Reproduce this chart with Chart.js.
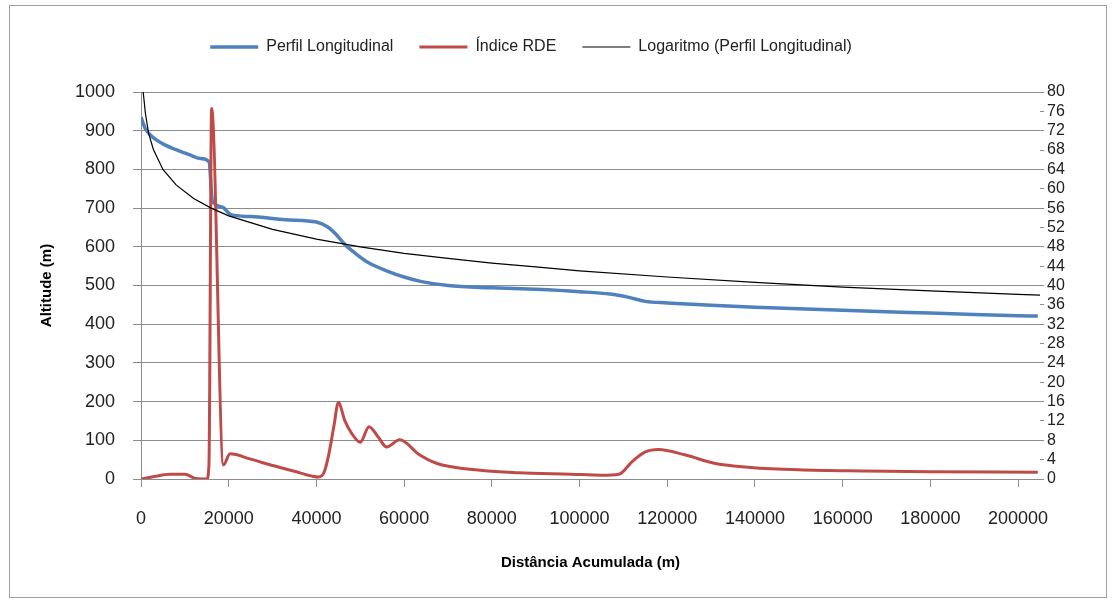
<!DOCTYPE html>
<html><head><meta charset="utf-8">
<script src="https://cdn.jsdelivr.net/npm/chart.js@4/dist/chart.umd.min.js"></script>
<style>html,body{margin:0;padding:0;background:#fff;}</style>
</head><body>
<canvas id="c" width="1114" height="603"></canvas>
<script>
// Perfil Longitudinal (altitude, m) vs distância acumulada (m)
const profileDist = [0, 1000, 2500, 5000, 8000, 11000, 13500, 15500, 16300, 18500, 20500, 25000, 33000, 40000, 42500, 44500, 46500, 49000, 52000, 56000, 60000, 64000, 70000, 80000, 90000, 100000, 107000, 111000, 115000, 120000, 130000, 140000, 150000, 160000, 170000, 180000, 190000, 200000, 204500];
const profileAlt  = [935, 905, 885, 866, 851, 838, 828, 820, 718, 703, 683, 678, 670, 664, 652, 632, 606, 582, 558, 538, 522, 510, 500, 494, 490, 484, 478, 470, 459, 455, 449, 444, 440, 436, 432, 429, 425, 422, 421];

// Índice RDE (right axis)
const rdeDist = [0, 3000, 6500, 10000, 12500, 15000, 15500, 16100, 18800, 20300, 25000, 30000, 35000, 39000, 40500, 41800, 42800, 44000, 45000, 46500, 48000, 50000, 52000, 54000, 56000, 59000, 63500, 67500, 75000, 86000, 98000, 105000, 109000, 112000, 115000, 118000, 124000, 131000, 139000, 150000, 165000, 180000, 204500];
const rdeValue = [0, 0.5, 1.0, 1.0, 0.1, 0, 3, 76.6, 2.9, 5.2, 4.1, 2.8, 1.6, 0.6, 0.4, 1.5, 5, 11, 15.8, 12.0, 9.5, 7.6, 10.8, 8.8, 6.6, 8.1, 5.0, 3.2, 2.0, 1.3, 1.0, 0.8, 1.0, 3.6, 5.6, 6.1, 5.0, 3.2, 2.4, 1.9, 1.65, 1.5, 1.4];

// Logaritmo (Perfil Longitudinal) trendline
const logDist  = [500, 1000, 1700, 2800, 5000, 8000, 12000, 16000, 20000, 30000, 40000, 50000, 60000, 70000, 80000, 90000, 100000, 120000, 140000, 160000, 180000, 200000, 205000];
const logValue = [1000, 945, 895, 852, 800, 760, 725, 700, 680, 645, 620, 600, 583, 570, 558, 548, 538, 522, 508, 496, 486, 477, 475];

// Tick labels
const xTicks = [0, 20000, 40000, 60000, 80000, 100000, 120000, 140000, 160000, 180000, 200000];
const yTicks = [0, 100, 200, 300, 400, 500, 600, 700, 800, 900, 1000];
const y1Ticks = [0, 4, 8, 12, 16, 20, 24, 28, 32, 36, 40, 44, 48, 52, 56, 60, 64, 68, 72, 76, 80];

const seriesNames = ['Perfil Longitudinal', 'Índice RDE', 'Logaritmo (Perfil Longitudinal)'];
const xTitle = 'Distância Acumulada (m)';
const yTitle = 'Altitude (m)';

const pts = (xs, ys) => xs.map((x, i) => ({x, y: ys[i]}));
const FONT = "'Liberation Sans', Arial, sans-serif";
const GRID = '#8c8c8c';

const frame = {
  id: 'frame',
  beforeDraw(chart) {
    const ctx = chart.ctx;
    ctx.save();
    ctx.fillStyle = '#fff';
    ctx.fillRect(0, 0, chart.width, chart.height);
    ctx.strokeStyle = '#a0a0a0';
    ctx.lineWidth = 1;
    ctx.strokeRect(9.5, 5.5, 1097, 592);
    ctx.restore();
  },
  afterLayout(chart) {
    const lg = chart.legend;
    if (lg) { lg.left -= 36; lg.right -= 36; }
  }
};

new Chart(document.getElementById('c'), {
  type: 'line',
  data: {
    datasets: [
      { label: seriesNames[0], data: pts(profileDist, profileAlt), yAxisID: 'y',
        borderColor: '#4F81BD', backgroundColor: '#4F81BD', borderWidth: 3.5,
        pointRadius: 0, cubicInterpolationMode: 'monotone', order: 3 },
      { label: seriesNames[1], data: pts(rdeDist, rdeValue), yAxisID: 'y1',
        borderColor: '#BE4B48', backgroundColor: '#BE4B48', borderWidth: 3,
        pointRadius: 0, cubicInterpolationMode: 'monotone', order: 2 },
      { label: seriesNames[2], data: pts(logDist, logValue), yAxisID: 'y',
        borderColor: '#000', backgroundColor: '#000', borderWidth: 1.2,
        pointRadius: 0, tension: 0, order: 1 }
    ]
  },
  options: {
    responsive: false,
    devicePixelRatio: 1,
    animation: false,
    layout: { padding: { top: 13, left: 30, right: 10, bottom: 25 } },
    font: { family: FONT },
    plugins: {
      legend: {
        position: 'top', weight: 3000,
        labels: {
          usePointStyle: true, pointStyle: 'line', pointStyleWidth: 48,
          padding: 26, color: '#222', font: { family: FONT, size: 16 },
          sort: (a, b) => a.datasetIndex - b.datasetIndex
        }
      },
      title: { display: true, text: '', weight: 2000, padding: { top: 15, bottom: 0 }, font: { size: 10 } },
      tooltip: { enabled: false }
    },
    scales: {
      x: {
        type: 'linear', position: 'bottom', min: 0, max: 205000,
        afterFit(s) { s.height = 99; },
        afterBuildTicks(s) { s.ticks = xTicks.map(v => ({ value: v })); },
        ticks: { autoSkip: false, maxRotation: 0, padding: 21, color: '#222',
                 font: { family: FONT, size: 18 }, callback: v => String(v) },
        grid: { drawOnChartArea: false, drawTicks: true, tickLength: 8, color: GRID },
        border: { display: true, color: GRID },
        title: { display: true, text: xTitle, color: '#000', font: { family: FONT, size: 15, weight: 'bold' },
                 padding: { top: 0, bottom: 6 } }
      },
      y: {
        position: 'left', min: 0, max: 1000,
        afterFit(s) { s.width = 111; },
        afterBuildTicks(s) { s.ticks = yTicks.map(v => ({ value: v })); },
        ticks: { autoSkip: false, padding: 18, color: '#222',
                 font: { family: FONT, size: 18 }, callback: v => String(v) },
        grid: { color: GRID, lineWidth: 1, drawTicks: true, tickLength: 8 },
        border: { display: true, color: GRID },
        title: { display: true, text: yTitle, color: '#000', font: { family: FONT, size: 15, weight: 'bold' },
                 padding: { top: 8, bottom: 0 } }
      },
      y1: {
        position: 'right', min: 0, max: 80,
        afterFit(s) { s.width = 64; },
        afterBuildTicks(s) { s.ticks = y1Ticks.map(v => ({ value: v })); },
        ticks: { autoSkip: false, padding: 3, color: '#222',
                 font: { family: FONT, size: 16 }, callback: v => String(v) },
        grid: { drawOnChartArea: false, drawTicks: true, tickLength: 4, color: GRID },
        border: { display: false, color: GRID }
      }
    }
  },
  plugins: [frame]
});
</script>
</body></html>
